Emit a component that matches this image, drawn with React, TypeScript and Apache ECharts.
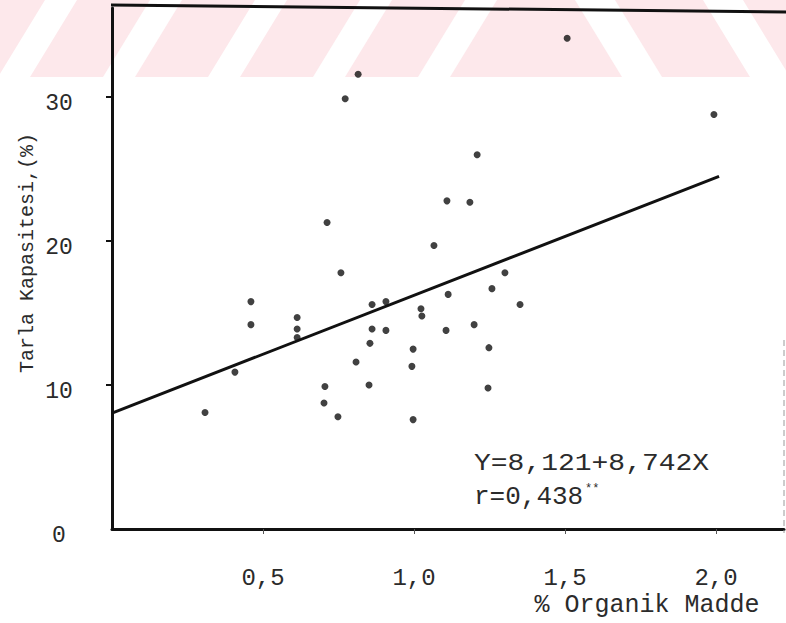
import React, { useEffect, useRef } from "react";
import * as echarts from "echarts";

// Scatter data: % organic matter (x) vs field capacity % (y)
const organikMadde = [
  1.507, 0.815, 0.772, 1.993, 1.209, 1.109, 1.185, 0.712, 1.066, 0.758,
  1.301, 1.258, 0.46, 0.861, 0.907, 1.113, 1.351, 1.023, 1.026, 0.46,
  0.613, 0.613, 0.613, 0.861, 0.907, 1.106, 1.199, 0.854, 0.997, 1.248,
  0.808, 0.993, 0.407, 0.308, 0.705, 0.702, 0.748, 0.851, 1.245, 0.997,
];
const tarlaKapasitesi = [
  34.1, 31.6, 29.9, 28.8, 26.0, 22.8, 22.7, 21.3, 19.7, 17.8,
  17.8, 16.7, 15.8, 15.6, 15.8, 16.3, 15.6, 15.3, 14.8, 14.2,
  14.7, 13.9, 13.3, 13.9, 13.8, 13.8, 14.2, 12.9, 12.5, 12.6,
  11.6, 11.3, 10.9, 8.1, 9.9, 8.75, 7.8, 10.0, 9.8, 7.6,
];
// Regression line endpoints as drawn
const regX = [0, 2.01];
const regY = [8.05, 24.5];

const xTicks = [0.5, 1.0, 1.5, 2.0];
const yTicks = [0, 10, 20, 30];
const yTickMarks = [10, 20, 30];

const equationText = "Y=8,121+8,742X";
const rText = "r=0,438";
const rStars = "**";
const xName = "% Organik Madde";
const yName = "Tarla Kapasitesi,(%)";

const FONT = "'Liberation Mono', 'DejaVu Sans Mono', monospace";
const INK = "#2b2b2b";

export default function App() {
  const ref = useRef<HTMLDivElement>(null);

  useEffect(() => {
    if (!ref.current) return;
    const chart = echarts.init(ref.current, null, { renderer: "svg" });

    const points = organikMadde.map((x, i) => [x, tarlaKapasitesi[i]]);
    const regLine = regX.map((x, i) => [x, regY[i]]);

    // watermark stripes (pink band with white diagonals)
    const stripes: any[] = [];
    const slashTops = [45, 150, 255, 360, 465];
    slashTops.forEach((t) => {
      stripes.push({
        type: "polygon",
        z: -9,
        silent: true,
        shape: {
          points: [
            [t, 0],
            [t + 32, 0],
            [t + 32 - 47, 77],
            [t - 47, 77],
          ],
        },
        style: { fill: "#ffffff" },
      });
    });
    const backTops = [575, 703];
    backTops.forEach((t) => {
      stripes.push({
        type: "polygon",
        z: -9,
        silent: true,
        shape: {
          points: [
            [t, 0],
            [t + 40, 0],
            [t + 40 + 47, 77],
            [t + 47, 77],
          ],
        },
        style: { fill: "#ffffff" },
      });
    });

    const option: any = {
      animation: false,
      backgroundColor: "#ffffff",
      grid: { left: 112, right: 2, top: 8, bottom: 94 },
      xAxis: {
        type: "value",
        min: 0,
        max: 2.225,
        axisLine: { show: true, onZero: false, lineStyle: { color: "#111", width: 3 } },
        axisTick: {
          show: true,
          customValues: xTicks,
          length: 5,
          lineStyle: { color: "#555", width: 1 },
        },
        axisLabel: {
          customValues: xTicks,
          formatter: (v: number) => v.toFixed(1).replace(".", ","),
          margin: 37,
          fontFamily: FONT,
          fontSize: 24,
          color: INK,
        },
        splitLine: { show: false },
      },
      yAxis: {
        type: "value",
        min: 0,
        max: 36.2,
        axisLine: { show: true, onZero: false, lineStyle: { color: "#111", width: 3 } },
        axisTick: {
          show: true,
          customValues: yTickMarks,
          length: 6,
          lineStyle: { color: "#111", width: 2 },
        },
        axisLabel: {
          customValues: yTicks,
          margin: 53,
          align: "center",
          verticalAlign: "top",
          lineHeight: 14,
          fontFamily: FONT,
          fontSize: 23,
          color: INK,
        },
        splitLine: { show: false },
      },
      series: [
        {
          type: "line",
          data: regLine,
          symbol: "none",
          z: 3,
          lineStyle: { color: "#111", width: 3 },
        },
        {
          type: "scatter",
          data: points,
          symbol: "circle",
          symbolSize: 7,
          z: 4,
          itemStyle: { color: "#111" },
        },
      ],
      graphic: [
        {
          type: "rect",
          z: -10,
          silent: true,
          shape: { x: 0, y: 0, width: 786, height: 77 },
          style: { fill: "#fde8eb" },
        },
        ...stripes,
        {
          type: "line",
          z: 5,
          shape: { x1: 111, y1: 5, x2: 786, y2: 12 },
          style: { stroke: "#111", lineWidth: 3 },
        },
        {
          type: "line",
          z: 5,
          shape: { x1: 784, y1: 340, x2: 784, y2: 533 },
          style: { stroke: "#9a9a9a", lineWidth: 1, lineDash: [6, 4] },
        },
        {
          type: "text",
          z: 6,
          x: 474,
          y: 463,
          scaleY: 0.88,
          style: {
            text: equationText,
            font: `28px ${FONT}`,
            fill: INK,
            align: "left",
            verticalAlign: "middle",
          },
        },
        {
          type: "text",
          z: 6,
          x: 474,
          y: 497,
          style: {
            text: rText,
            font: `26px ${FONT}`,
            fill: INK,
            align: "left",
            verticalAlign: "middle",
          },
        },
        {
          type: "text",
          z: 6,
          x: 585,
          y: 489,
          style: {
            text: rStars,
            font: `12px ${FONT}`,
            fill: INK,
            align: "left",
            verticalAlign: "middle",
          },
        },
        {
          type: "text",
          z: 6,
          x: 647,
          y: 605,
          style: {
            text: xName,
            font: `25px ${FONT}`,
            fill: INK,
            align: "center",
            verticalAlign: "middle",
          },
        },
        {
          type: "text",
          z: 6,
          x: 27,
          y: 253,
          rotation: Math.PI / 2,
          style: {
            text: yName,
            font: `20px ${FONT}`,
            fill: INK,
            align: "center",
            verticalAlign: "middle",
          },
        },
      ],
    };

    chart.setOption(option);
    return () => chart.dispose();
  }, []);

  return (
    <div
      ref={ref}
      style={{ position: "absolute", left: 0, top: 0, width: 786, height: 623 }}
    />
  );
}
